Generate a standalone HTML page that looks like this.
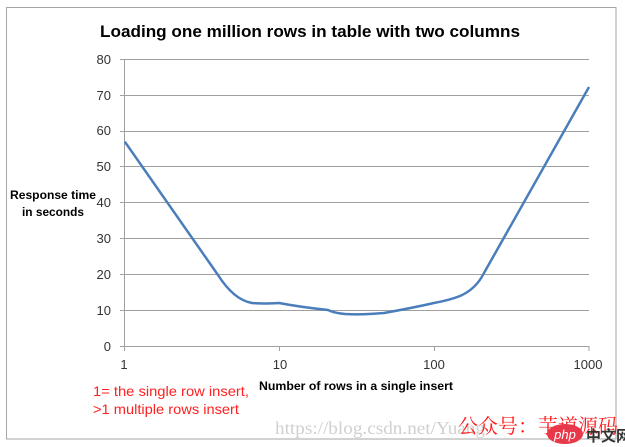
<!DOCTYPE html>
<html><head><meta charset="utf-8"><style>
body{margin:0;background:#fff;}
svg{display:block;font-family:"Liberation Sans","Noto Sans CJK SC",sans-serif;}
</style></head><body>
<svg width="625" height="447" viewBox="0 0 625 447">
<rect x="6.5" y="7.5" width="609.5" height="431.5" fill="#fff" stroke="#a6a6a6" stroke-width="1"/>
<text x="310" y="37" text-anchor="middle" font-size="16.5" font-weight="bold" fill="#000" textLength="420" lengthAdjust="spacingAndGlyphs">Loading one million rows in table with two columns</text>
<g stroke="#a0a0a0" stroke-width="1">
<line x1="120" y1="59.5" x2="589" y2="59.5"/>
<line x1="120" y1="95.5" x2="589" y2="95.5"/>
<line x1="120" y1="131.5" x2="589" y2="131.5"/>
<line x1="120" y1="166.5" x2="589" y2="166.5"/>
<line x1="120" y1="202.5" x2="589" y2="202.5"/>
<line x1="120" y1="238.5" x2="589" y2="238.5"/>
<line x1="120" y1="274.5" x2="589" y2="274.5"/>
<line x1="120" y1="310.5" x2="589" y2="310.5"/>
<line x1="120" y1="346.5" x2="589" y2="346.5"/>
<line x1="124.5" y1="59" x2="124.5" y2="351"/>
<line x1="279.5" y1="346" x2="279.5" y2="351"/>
<line x1="434.5" y1="346" x2="434.5" y2="351"/>
<line x1="589" y1="346" x2="589" y2="351"/>
</g>
<g font-size="13" fill="#333" text-anchor="end">
<text x="111" y="64">80</text><text x="111" y="100">70</text><text x="111" y="135">60</text>
<text x="111" y="171">50</text><text x="111" y="207">40</text><text x="111" y="243">30</text>
<text x="111" y="279">20</text><text x="111" y="315">10</text><text x="111" y="351">0</text>
</g>
<g font-size="13" fill="#333" text-anchor="middle">
<text x="124" y="369">1</text><text x="280" y="369">10</text><text x="434" y="369">100</text><text x="588" y="369">1000</text>
</g>
<text x="356" y="390" text-anchor="middle" font-size="12" font-weight="bold" fill="#000" textLength="194" lengthAdjust="spacingAndGlyphs">Number of rows in a single insert</text>
<text x="53" y="199" text-anchor="middle" font-size="12" font-weight="bold" fill="#000" textLength="86" lengthAdjust="spacingAndGlyphs">Response time</text>
<text x="53" y="216" text-anchor="middle" font-size="12" font-weight="bold" fill="#000" textLength="62" lengthAdjust="spacingAndGlyphs">in seconds</text>
<path d="M124.8,141.7 L218,275 Q234,300 252,303 Q262,304 279,303 Q300,307 328,310 Q334,313 345,314 Q362,315 384,313 Q412,308 434,303 Q450,300 460,296 Q476,289 484,273 L589,87"
 fill="none" stroke="#4a7ebb" stroke-width="2.5" stroke-linejoin="round"/>
<text x="93" y="396" font-size="14" fill="#ff2020" textLength="156" lengthAdjust="spacingAndGlyphs">1= the single row  insert,</text>
<text x="93" y="414" font-size="14" fill="#ff2020" textLength="146" lengthAdjust="spacingAndGlyphs">&gt;1 multiple rows insert</text>
<text x="275" y="434" font-size="18" fill="#d0d0d0" font-family="Liberation Serif,serif" textLength="210" lengthAdjust="spacingAndGlyphs">https://blog.csdn.net/Yuang</text>
<text x="458" y="433" font-size="20" fill="#ff1a1a" font-family="Noto Serif CJK SC,serif">公众号：芋道源码</text>
<ellipse cx="565" cy="434" rx="18" ry="10" fill="#e8384a"/>
<text x="565" y="439" text-anchor="middle" font-size="13" font-style="italic" fill="#fff">php</text>
<text x="586" y="441" font-size="15" font-weight="bold" fill="#333">中文网</text>
</svg>
</body></html>
